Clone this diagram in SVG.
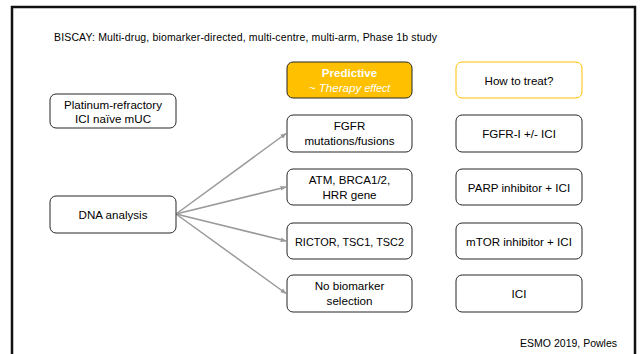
<svg xmlns="http://www.w3.org/2000/svg" width="640" height="354" viewBox="0 0 640 354">
<defs>
<style>
.box{fill:#fff;stroke:#262626;stroke-width:1}
.t{font-family:"Liberation Sans",Arial,sans-serif;font-size:11.6px;fill:#000;text-anchor:middle}
.small{font-family:"Liberation Sans",Arial,sans-serif;font-size:10.5px;fill:#000}
.conn{stroke:#9a9a9a;stroke-width:1.5;fill:none;marker-end:url(#ah)}
</style>
<marker id="ah" viewBox="0 0 10 10" refX="9" refY="5" markerWidth="4" markerHeight="4" orient="auto" markerUnits="strokeWidth">
<path d="M0,1 L10,5 L0,9 z" fill="#9a9a9a"/>
</marker>
</defs>
<rect width="640" height="354" fill="#fff"/>
<rect x="12" y="7" width="623" height="360" fill="none" stroke="#111" stroke-width="2.5"/>
<text class="small" x="54" y="41" textLength="383">BISCAY: Multi-drug, biomarker-directed, multi-centre, multi-arm, Phase 1b study</text>

<g id="connectors">
<line class="conn" x1="176" y1="214" x2="286" y2="133.5"/>
<line class="conn" x1="176" y1="214" x2="286" y2="187"/>
<line class="conn" x1="176" y1="214" x2="286" y2="241"/>
<line class="conn" x1="176" y1="214" x2="286" y2="293.5"/>
</g>

<g id="platinum">
<rect class="box" x="50" y="94" width="126" height="34" rx="6"/>
<text class="t" x="113" y="109">Platinum-refractory</text>
<text class="t" x="113" y="123">ICI naïve mUC</text>
</g>
<g id="dna">
<rect class="box" x="50" y="196" width="126" height="37" rx="6"/>
<text class="t" x="113" y="218.5">DNA analysis</text>
</g>

<g id="predictive">
<rect x="287" y="62" width="125" height="36" rx="6" fill="#ffc000" stroke="#262626" stroke-width="1"/>
<text class="t" x="349.5" y="77" style="fill:#fff;font-weight:bold">Predictive</text>
<text class="t" x="349.5" y="92" style="fill:#fff;font-style:italic">~ Therapy <tspan style="font-size:10.5px">effect</tspan></text>
</g>
<g id="howtotreat">
<rect x="456" y="62" width="126" height="36" rx="6" fill="#fff" stroke="#ffc000" stroke-width="1"/>
<text class="t" x="519" y="84.5">How to treat?</text>
</g>

<g id="fgfr">
<rect class="box" x="287" y="115" width="125" height="37" rx="6"/>
<text class="t" x="349.5" y="130">FGFR</text>
<text class="t" x="349.5" y="145">mutations/fusions</text>
</g>
<g id="fgfri">
<rect class="box" x="456" y="115" width="126" height="37" rx="6"/>
<text class="t" x="519" y="137.5">FGFR-I +/- ICI</text>
</g>

<g id="atm">
<rect class="box" x="287" y="169" width="125" height="36" rx="6"/>
<text class="t" x="349.5" y="184">ATM, BRCA1/2,</text>
<text class="t" x="349.5" y="199">HRR gene</text>
</g>
<g id="parp">
<rect class="box" x="456" y="169" width="126" height="36" rx="6"/>
<text class="t" x="519" y="191.5">PARP inhibitor + ICI</text>
</g>

<g id="rictor">
<rect class="box" x="287" y="223" width="125" height="36" rx="6"/>
<text class="t" x="349.5" y="245.5" textLength="109" lengthAdjust="spacingAndGlyphs">RICTOR, TSC1, TSC2</text>
</g>
<g id="mtor">
<rect class="box" x="456" y="223" width="126" height="36" rx="6"/>
<text class="t" x="519" y="245.5">mTOR inhibitor + ICI</text>
</g>

<g id="nobiomarker">
<rect class="box" x="287" y="275" width="125" height="37" rx="6"/>
<text class="t" x="349.5" y="290">No biomarker</text>
<text class="t" x="349.5" y="305">selection</text>
</g>
<g id="ici">
<rect class="box" x="456" y="275" width="126" height="37" rx="6"/>
<text class="t" x="519" y="297.5">ICI</text>
</g>

<text class="small" x="617" y="347" text-anchor="end">ESMO 2019, Powles</text>
</svg>
